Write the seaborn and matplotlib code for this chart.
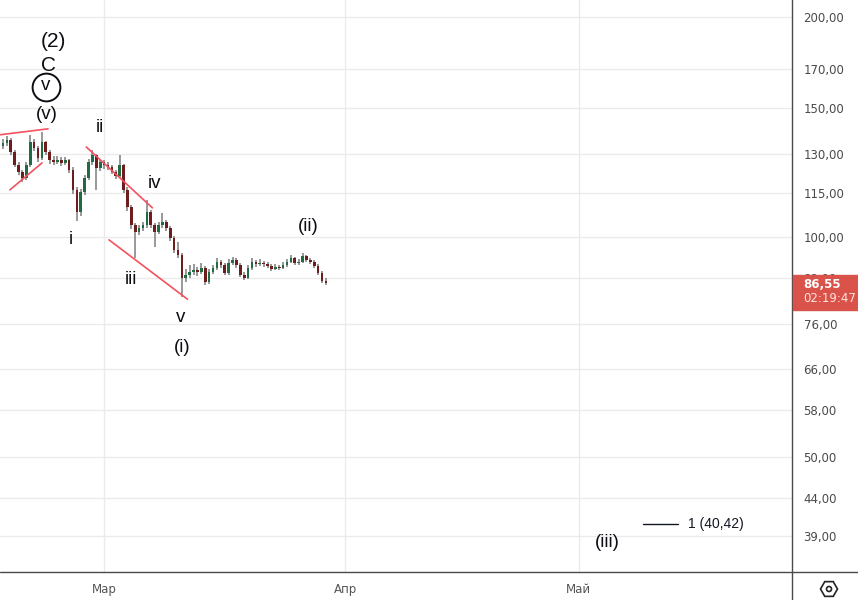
import numpy as np
import pandas as pd
import matplotlib
matplotlib.use('Agg')
import matplotlib.pyplot as plt
import matplotlib.dates as mdates
import seaborn as sns
from matplotlib.patches import Rectangle, RegularPolygon, Circle
from matplotlib.lines import Line2D
from matplotlib.ticker import FixedLocator, NullLocator

sns.set_theme(style='white')
plt.rcParams['font.family'] = ['DejaVu Sans']

# 12h свечи, 16 фев - 29 мар
first_open = 133.0
closes = [134.5, 135.8, 130.8, 125.5, 122.8, 120.5, 125.5, 134.9, 132.4, 128.3,
          134.9, 130.8, 127.5, 126.7, 127.5, 126.3, 127.5, 123.6, 116.0, 108.2,
          115.3, 120.5, 126.7, 129.5, 124.3, 126.7, 125.5, 124.7, 122.8, 121.2,
          125.5, 116.0, 109.9, 103.9, 101.6, 102.9, 103.9, 108.2, 103.9, 101.6,
          103.9, 104.9, 102.9, 99.7, 96.0, 94.5, 87.9, 88.8, 89.6, 90.2,
          89.6, 90.7, 86.8, 89.6, 90.7, 92.4, 91.6, 89.3, 92.2, 93.0,
          91.6, 88.8, 87.9, 90.7, 92.4, 91.9, 92.2, 91.9, 91.3, 90.4,
          91.0, 90.7, 91.6, 92.4, 93.6, 92.2, 92.4, 94.2, 93.0, 92.4,
          91.3, 89.3, 87.1, 86.55]
highs = [136.0, 137.5, 136.5, 131.5, 126.5, 123.5, 126.5, 138.0, 136.0, 133.0,
         139.0, 135.5, 131.5, 129.0, 129.0, 128.5, 128.8, 128.0, 124.5, 117.0,
         116.5, 121.5, 128.0, 131.6, 130.0, 128.0, 127.5, 126.5, 125.5, 123.5,
         129.5, 126.0, 117.0, 110.5, 104.5, 104.0, 105.0, 112.5, 109.0, 104.5,
         105.0, 107.8, 105.5, 103.5, 100.3, 98.3, 95.0, 90.5, 91.5, 91.8,
         91.0, 92.0, 91.2, 90.5, 91.5, 93.5, 93.0, 92.0, 93.2, 94.0,
         93.5, 92.0, 89.5, 91.5, 93.5, 93.0, 93.2, 92.8, 92.5, 91.8,
         91.8, 91.6, 92.3, 93.2, 94.5, 94.0, 93.3, 95.0, 94.6, 93.5,
         93.0, 91.8, 89.8, 87.8]
lows = [132.0, 133.0, 129.5, 124.5, 121.5, 119.0, 119.5, 124.5, 131.0, 126.5,
        127.5, 129.5, 126.0, 125.5, 125.8, 125.0, 125.5, 122.5, 114.5, 105.3,
        107.0, 114.0, 119.5, 125.5, 116.0, 123.0, 124.0, 123.5, 121.8, 120.0,
        120.5, 115.0, 108.5, 102.5, 93.6, 100.5, 101.8, 103.0, 102.8, 96.9,
        100.8, 103.0, 102.0, 98.8, 95.0, 93.5, 82.8, 86.8, 88.0, 88.8,
        88.5, 89.0, 86.0, 86.3, 89.0, 90.2, 90.8, 88.6, 88.8, 91.5,
        90.8, 88.2, 87.2, 87.5, 90.2, 91.0, 91.3, 91.0, 90.6, 89.8,
        90.0, 90.0, 90.3, 91.0, 92.0, 91.5, 91.6, 92.0, 92.3, 91.8,
        90.6, 88.8, 86.5, 86.0]
opens = [first_open] + closes[:-1]
dates = pd.date_range('2025-02-16', periods=len(closes), freq='12h')

# трендовые линии (начало, конец)
line_starts = ['2025-02-15 15:00', '2025-02-16 21:30', '2025-02-26 17:00', '2025-03-01 15:00']
line_ends = ['2025-02-21 19:00', '2025-02-21 00:30', '2025-03-07 05:00', '2025-03-11 17:00']
line_p0 = [138.0, 116.0, 132.8, 99.1]
line_p1 = [140.6, 126.3, 109.6, 82.2]

# разметка волн
wave_text = ['(2)', 'C', '(v)', 'ii', 'i', 'iv', 'iii', 'v', '(i)', '(ii)', '(iii)']
wave_dates = ['2025-02-22 10:30', '2025-02-21 19:00', '2025-02-21 16:00', '2025-02-28 12:00',
              '2025-02-24 18:00', '2025-03-07 10:30', '2025-03-04 11:00', '2025-03-10 21:30',
              '2025-03-11 01:00', '2025-03-27 06:00', '2025-05-04 14:30']
wave_price = [185.0, 171.4, 147.3, 141.0, 99.1, 118.4, 87.6, 77.5, 70.6, 103.2, 38.2]
circled_date = '2025-02-21 13:00'
circled_price = 160.4

target_level = 40.42
target_from, target_to, target_label_at = '2025-05-09 05:00', '2025-05-13 17:00', '2025-05-15 00:00'

y_ticks = [39, 44, 50, 58, 66, 76, 88, 100, 115, 130, 150, 170, 200]
month_ticks = ['2025-03-01', '2025-04-01', '2025-05-01']
month_labels = ['Мар', 'Апр', 'Май']
last_price = '86,55'
countdown = '02:19:47'

df = pd.DataFrame(dict(date=dates, open=opens, close=closes, high=highs, low=lows))
df['x'] = mdates.date2num(df['date'])
df['up'] = df['close'] >= df['open']

fig = plt.figure(figsize=(8.58, 6), dpi=100, facecolor='white')
ax = fig.add_axes([0, 28 / 600, 792 / 858, 572 / 600])
ax.set_yscale('log')

ax.vlines(df['x'], df['low'], df['high'], color='#7d7d7d', lw=1.1, zorder=2)
body_bottom = df[['open', 'close']].min(axis=1)
body_h = (df['close'] - df['open']).abs().clip(lower=0.2)
ax.bar(df['x'], body_h, bottom=body_bottom, width=0.34,
       color=np.where(df['up'], '#1f6b43', '#6e1c1c'), linewidth=0, zorder=3)

seg = pd.DataFrame({
    'x': list(mdates.date2num(pd.to_datetime(line_starts))) + list(mdates.date2num(pd.to_datetime(line_ends))),
    'y': line_p0 + line_p1,
    'seg': list(range(4)) * 2,
})
sns.lineplot(data=seg, x='x', y='y', units='seg', estimator=None, color='#f4525e',
             lw=1.2, ax=ax, zorder=4)

for s, d, p in zip(wave_text, wave_dates, wave_price):
    fs = 15 if s in ('(2)', 'C') else 13.5
    ax.text(mdates.date2num(pd.Timestamp(d)), p, s, ha='center', va='center',
            fontsize=fs, color='#0c0e14', family='Liberation Sans', zorder=5)
cx = mdates.date2num(pd.Timestamp(circled_date))
ax.plot([cx], [circled_price], marker='o', ms=20, mfc='none', mec='#0c0e14', mew=1.4, zorder=5)
ax.text(cx, circled_price * 1.004, 'v', ha='center', va='center', fontsize=13.5,
        color='#0c0e14', family='Liberation Sans', zorder=5)

ax.plot(mdates.date2num(pd.to_datetime([target_from, target_to])), [target_level, target_level],
        color='#131722', lw=1, zorder=5)
ax.text(mdates.date2num(pd.Timestamp(target_label_at)), target_level, '1 (40,42)',
        ha='left', va='center', fontsize=10, color='#131722', family='Liberation Sans')

mar1 = pd.Timestamp('2025-03-01')
ax.set_xlim(mdates.date2num(mar1 - pd.Timedelta(days=13.38)),
            mdates.date2num(mar1 + pd.Timedelta(days=88.4)))
ax.set_ylim(34.8, 211.0)

ax.yaxis.tick_right()
ax.yaxis.set_major_locator(FixedLocator(y_ticks))
ax.yaxis.set_minor_locator(NullLocator())
ax.set_yticklabels([f'{v:.2f}'.replace('.', ',') for v in y_ticks])
ax.set_xticks(mdates.date2num(pd.to_datetime(month_ticks)))
ax.set_xticklabels(month_labels)
ax.tick_params(axis='y', length=0, pad=8.3, labelsize=8.5, labelcolor='#4a4a4a')
ax.tick_params(axis='x', length=0, pad=8, labelsize=8.5, labelcolor='#555555')
ax.grid(True, color='#ebebeb', lw=1)
ax.set_axisbelow(True)
for sp in ax.spines.values():
    sp.set_visible(False)
ax.set_xlabel('')
ax.set_ylabel('')

# рамка шкал
fig.add_artist(Line2D([792 / 858, 792 / 858], [0, 1], color='#4a4a4a', lw=1, transform=fig.transFigure))
fig.add_artist(Line2D([0, 1], [28 / 600, 28 / 600], color='#4a4a4a', lw=1, transform=fig.transFigure))

# плашка текущей цены
fig.add_artist(Rectangle((793 / 858, 1 - 310 / 600), 65 / 858, 35 / 600, color='#d9534a',
                         transform=fig.transFigure, zorder=5))
fig.text(803 / 858, 1 - 284 / 600, last_price, ha='left', va='center', color='white',
         fontsize=8.5, fontweight='bold', zorder=6)
fig.text(803 / 858, 1 - 299 / 600, countdown, ha='left', va='center', color='#fde3de',
         fontsize=8.5, zorder=6)

# значок настроек
fig.add_artist(RegularPolygon((8.29, 0.11), 6, radius=0.085, orientation=np.pi / 2, fill=False,
                              ec='#222222', lw=1.2, transform=fig.dpi_scale_trans))
fig.add_artist(Circle((8.29, 0.11), 0.025, fill=False, ec='#222222', lw=1.2,
                      transform=fig.dpi_scale_trans))

fig.savefig('out.png', dpi=100, facecolor='white')
